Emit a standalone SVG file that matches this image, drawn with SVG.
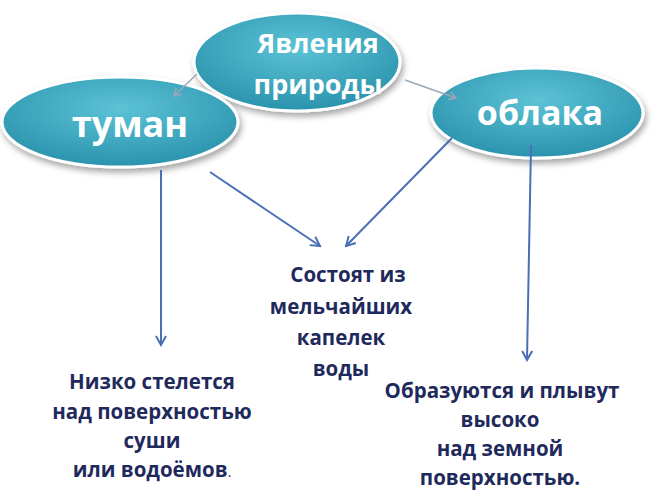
<svg xmlns="http://www.w3.org/2000/svg" width="659" height="494" viewBox="0 0 659 494">
<defs>
<radialGradient id="g" cx="50%" cy="35%" r="65%">
<stop offset="0" stop-color="#5cc3d6"/><stop offset="1" stop-color="#2a93ad"/>
</radialGradient>
<marker id="ab" markerWidth="12" markerHeight="12" refX="10" refY="6" orient="auto" markerUnits="userSpaceOnUse">
<path d="M1,1 L10,6 L1,11" fill="none" stroke="#4a6fb5" stroke-width="2"/>
</marker>
<marker id="ag" markerWidth="10" markerHeight="10" refX="8" refY="5" orient="auto" markerUnits="userSpaceOnUse">
<path d="M1,1 L8,5 L1,9" fill="none" stroke="#9aa8b8" stroke-width="1.5"/>
</marker>
<filter id="s" x="-20%" y="-20%" width="140%" height="150%"><feDropShadow dx="2" dy="4" stdDeviation="3" flood-opacity="0.35"/></filter>
</defs>
<style>
.e{fill:url(#g);stroke:#fff;stroke-width:3;filter:url(#s)}
.t{font-family:"Open Sans","Liberation Sans",sans-serif;font-weight:bold;fill:#fff;text-anchor:middle}
.b{font-family:"Open Sans","Liberation Sans",sans-serif;font-weight:bold;fill:#1f2a5c;font-size:20.5px;text-anchor:middle}
.c{stroke:#4a6fb5;stroke-width:2;fill:none;marker-end:url(#ab)}
.cg{stroke:#9aa8b8;stroke-width:1.5;fill:none;marker-end:url(#ag)}
</style>
<rect width="659" height="494" fill="#fff"/>
<g id="n-top"><ellipse class="e" cx="297" cy="62" rx="103" ry="49"/>
<text class="t" font-size="27" x="318" y="53">Явления</text><text class="t" font-size="27" x="318" y="94">природы</text></g>
<g id="n-tuman"><ellipse class="e" cx="120" cy="122" rx="118" ry="45"/>
<text class="t" font-size="36" x="130" y="137">туман</text></g>
<g id="n-oblaka"><ellipse class="e" cx="537" cy="113" rx="106" ry="45"/>
<text class="t" font-size="34" x="540" y="125">облака</text></g>
<g id="connectors">
<line class="cg" x1="197" y1="74" x2="174" y2="96"/>
<line class="cg" x1="405" y1="80" x2="456" y2="98"/>
<line class="c" x1="161" y1="170" x2="161" y2="345"/>
<line class="c" x1="210" y1="172" x2="320" y2="246"/>
<line class="c" x1="452" y1="138" x2="346" y2="246"/>
<line class="c" x1="531" y1="145" x2="527" y2="360"/>
</g>
<g id="n-mid"><text class="b" x="348" y="282">Состоят из</text><text class="b" x="341" y="314">мельчайших</text><text class="b" x="341" y="345">капелек</text><text class="b" x="341" y="376">воды</text></g>
<g id="n-left"><text class="b" x="152" y="389">Низко стелется</text><text class="b" x="152" y="419">над поверхностью</text><text class="b" x="152" y="448">суши</text><text class="b" x="152" y="477">или водоёмов<tspan font-weight="normal" font-size="14">.</tspan></text></g>
<g id="n-right"><text class="b" x="502" y="398">Образуются и плывут</text><text class="b" x="500" y="427">высоко</text><text class="b" x="500" y="456">над земной</text><text class="b" x="500" y="485">поверхностью.</text></g>
</svg>
